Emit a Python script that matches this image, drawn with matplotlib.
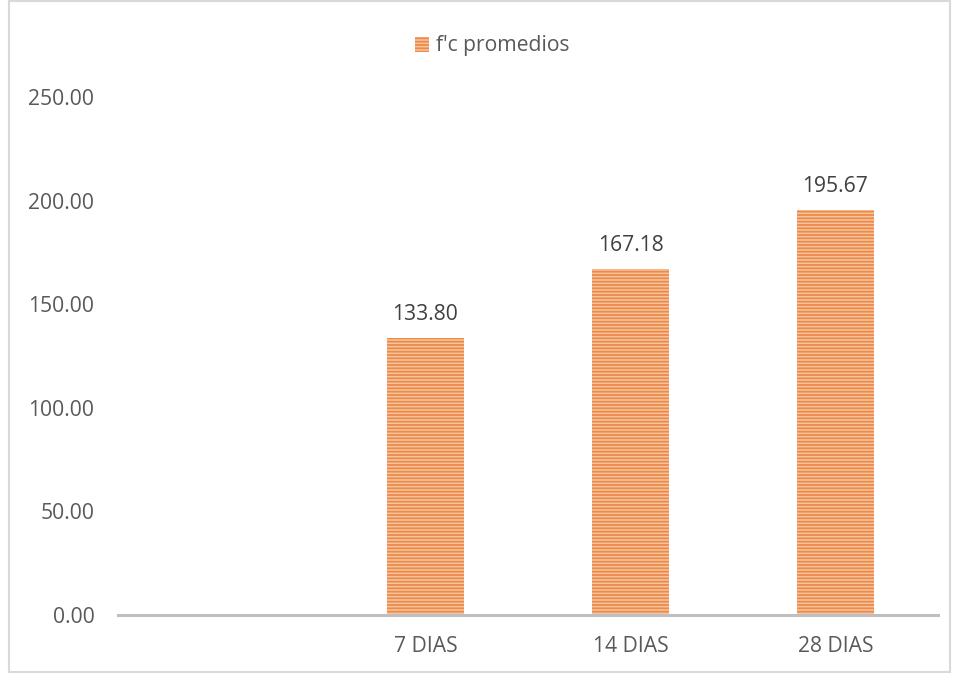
import matplotlib.pyplot as plt
from matplotlib.patches import Rectangle

categories = ['', '7 DIAS', '14 DIAS', '28 DIAS']
values = [0, 133.80, 167.18, 195.67]
yticks = [0, 50, 100, 150, 200, 250]

plt.rcParams['font.family'] = ['Open Sans', 'DejaVu Sans']
plt.rcParams['hatch.linewidth'] = 1.3
txt = '#595959'
fs = 15.2

fig = plt.figure(figsize=(9.55, 6.73), dpi=100)
ax = fig.add_axes([118 / 955, 58 / 673, 820 / 955, 518 / 673])

x = list(range(len(categories)))
bars = ax.bar(x[1:], values[1:], width=0.38, color='#F7C59C',
              edgecolor='#EC8A4C', hatch='-----', linewidth=0,
              label="f'c promedios")

for xi, v in zip(x[1:], values[1:]):
    ax.text(xi, v + 6, f'{v:.2f}', ha='center', va='bottom',
            fontsize=fs, color='#404040')

ax.set_xlim(-0.5, len(categories) - 0.5)
ax.set_ylim(0, 250)
ax.set_xticks(x)
ax.set_xticklabels(categories)
ax.set_yticks(yticks)
ax.set_yticklabels([f'{t:.2f}' for t in yticks])
ax.tick_params(length=0, labelsize=fs, colors=txt)
ax.tick_params(axis='x', pad=15)
ax.tick_params(axis='y', pad=17)
for s in ['top', 'right', 'left']:
    ax.spines[s].set_visible(False)
ax.spines['bottom'].set_color('#BFBFBF')
ax.spines['bottom'].set_linewidth(2.2)

leg = fig.legend(loc='center', bbox_to_anchor=(492 / 955, 1 - 46 / 673),
                 frameon=False, fontsize=fs, handlelength=0.7,
                 handleheight=0.7, handletextpad=0.3)
for t in leg.get_texts():
    t.set_color(txt)

fig.patches.append(Rectangle((9 / 955, 0.002), 0.985, 0.996,
                             transform=fig.transFigure, fill=False,
                             edgecolor='#D9D9D9', linewidth=1.5))

fig.savefig('out.png', dpi=100)
